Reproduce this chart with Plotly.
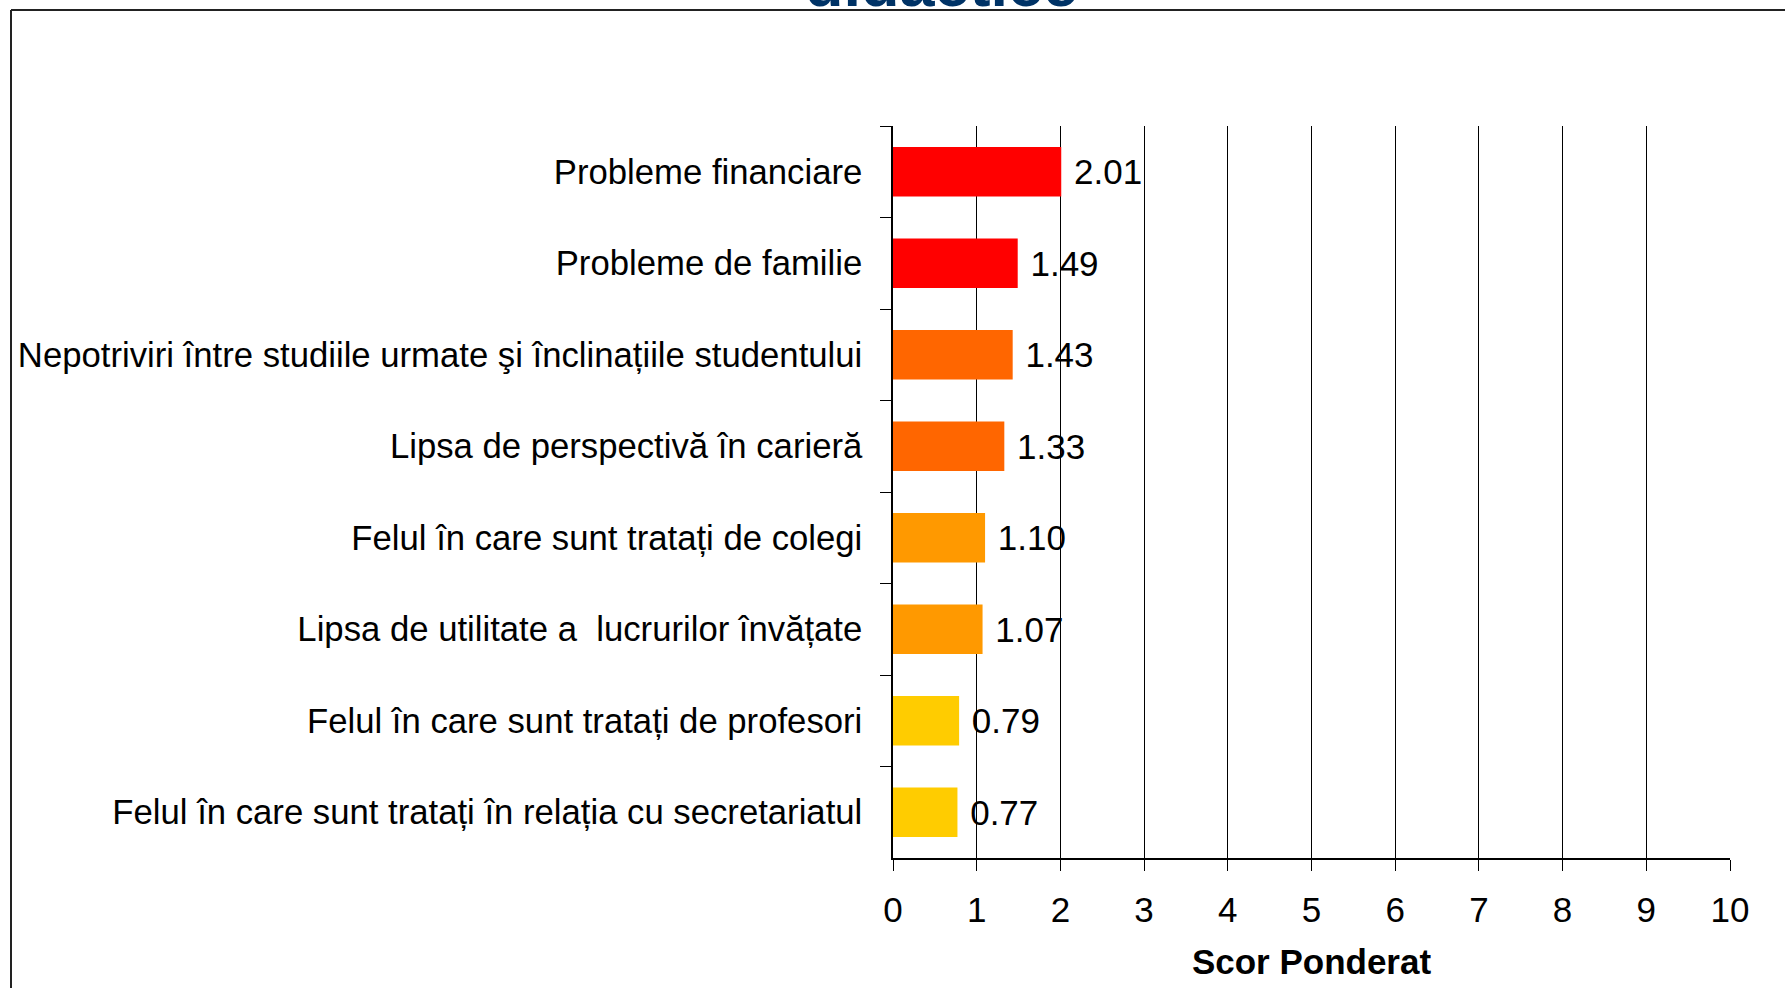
import plotly.graph_objects as go

categories = [
    "Probleme financiare",
    "Probleme de familie",
    "Nepotriviri între studiile urmate şi înclinațiile studentului",
    "Lipsa de perspectivă în carieră",
    "Felul în care sunt tratați de colegi",
    "Lipsa de utilitate a  lucrurilor învățate",
    "Felul în care sunt tratați de profesori",
    "Felul în care sunt tratați în relația cu secretariatul",
]
values = [2.01, 1.49, 1.43, 1.33, 1.10, 1.07, 0.79, 0.77]
bar_colors = ["#FF0000", "#FF0000", "#FF6600", "#FF6600",
              "#FF9900", "#FF9900", "#FFCC00", "#FFCC00"]
x_ticks = list(range(0, 11))
x_title = "Scor Ponderat"
title_tail = "didactice"

W, H = 1785, 988
L, R, T, B = 893, 55, 126, 130
PW, PH = W - L - R, H - T - B

def px_x(p):  # pixel -> paper x
    return (p - L) / PW

def px_y(p):  # pixel -> paper y
    return (H - B - p) / PH

FONT = "Liberation Sans, Arial, sans-serif"

fig = go.Figure()
fig.add_trace(go.Bar(
    x=values, y=categories, orientation="h",
    marker=dict(color=bar_colors, line=dict(width=0)),
    text=["\u00a0" + f"{v:.2f}" for v in values],
    textposition="outside",
    textfont=dict(family=FONT, size=35, color="black"),
    cliponaxis=False,
    width=0.54,
))

fig.update_layout(
    width=W, height=H,
    margin=dict(l=L, r=R, t=T, b=B, pad=0),
    paper_bgcolor="white", plot_bgcolor="white",
    showlegend=False,
    font=dict(family=FONT, color="black"),
    xaxis=dict(
        range=[0, 10], tickvals=x_ticks, ticktext=[str(t) for t in x_ticks],
        showgrid=True, gridcolor="black", gridwidth=1,
        showline=True, linecolor="black", linewidth=1.5,
        ticks="outside", ticklen=11, tickcolor="black", tickwidth=1,
        tickfont=dict(size=35, family=FONT, color="black"),
        ticklabelstandoff=9,
        zeroline=False,
        title=dict(text="<b>" + x_title + "</b>", font=dict(size=35, family=FONT, color="black"), standoff=22),
    ),
    yaxis=dict(
        autorange="reversed", type="category",
        showgrid=False,
        showline=True, linecolor="black", linewidth=1.5,
        ticks="outside", ticklen=11, tickcolor="black", tickwidth=1,
        tickson="boundaries",
        tickfont=dict(size=34.7, family=FONT, color="black"),
        ticklabelstandoff=22,
    ),
    shapes=[
        dict(type="line", xref="paper", yref="paper",
             x0=px_x(11), x1=px_x(11), y0=px_y(10), y1=px_y(1000),
             line=dict(color="#222222", width=2)),
        dict(type="line", xref="paper", yref="paper",
             x0=px_x(11), x1=px_x(1785), y0=px_y(10), y1=px_y(10),
             line=dict(color="#222222", width=2)),
    ],
    annotations=[
        dict(text="<b>" + title_tail + "</b>", xref="paper", yref="paper",
             x=px_x(941), y=px_y(7), xanchor="center", yanchor="bottom",
             showarrow=False, font=dict(size=63, family=FONT, color="#003366"),
             yshift=-14),
    ],
)

fig.write_html("out.html", config={"displayModeBar": False},
               post_script="document.body.style.margin='0';")
